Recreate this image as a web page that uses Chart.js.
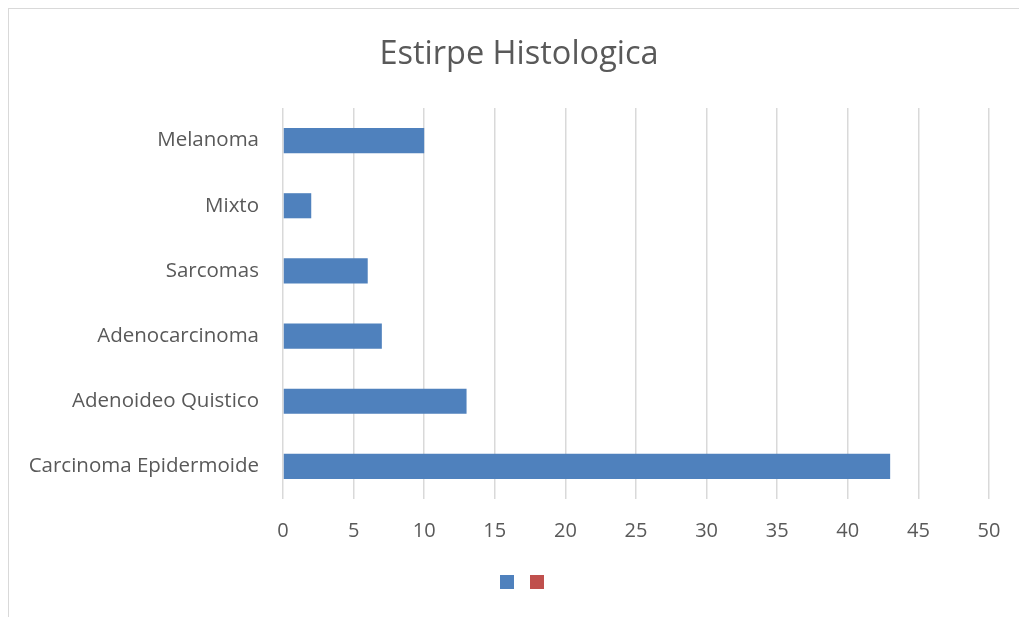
<!DOCTYPE html>
<html>
<head>
<meta charset="utf-8">
<script src="https://cdn.jsdelivr.net/npm/chart.js@4"></script>
<style>
  html, body { margin: 0; padding: 0; background: #fff; overflow: hidden; }
  #frame { position: absolute; left: 8px; top: 8px; width: 1030px; height: 630px; border: 1px solid #d9d9d9; }
  #wrap { position: absolute; left: 0; top: 0; width: 1038px; height: 617px; }
</style>
</head>
<body>
<div id="frame"></div>
<div id="wrap"><canvas id="chart"></canvas></div>
<script>
// --- datos ---
const categories = ['Melanoma', 'Mixto', 'Sarcomas', 'Adenocarcinoma', 'Adenoideo Quistico', 'Carcinoma Epidermoide'];
const serie1 = [10, 2, 6, 7, 13, 43];
const serie2 = [null, null, null, null, null, null];
const xMin = 0, xMax = 50, xStep = 5;

const textColor = '#595959';
const gridColor = '#d9d9d9';

Chart.defaults.font.family = '"Open Sans", "Noto Sans", sans-serif';
Chart.defaults.color = textColor;

const ctx = document.getElementById('chart').getContext('2d');
new Chart(ctx, {
    type: 'bar',
    data: {
        labels: categories,
        datasets: [
            { label: '', data: serie1, backgroundColor: '#4f81bd', borderWidth: 0, categoryPercentage: 1, barPercentage: 0.385 },
            { label: '', data: serie2, backgroundColor: '#c0504d', borderWidth: 0, categoryPercentage: 1, barPercentage: 0.385 }
        ]
    },
    options: {
        indexAxis: 'y',
        responsive: true,
        maintainAspectRatio: false,
        animation: false,
        layout: { padding: { left: 0, right: 0, top: 0, bottom: 18 } },
        scales: {
            x: {
                min: xMin, max: xMax,
                ticks: { stepSize: xStep, color: textColor, font: { size: 20 }, padding: 20 },
                grid: { color: gridColor, lineWidth: 1.5, drawTicks: false },
                border: { display: false },
                // espacio a la derecha del area de trazado
                afterFit: (scale) => { scale.height = 66; scale.paddingRight = 49; }
            },
            y: {
                stacked: true,
                ticks: { color: textColor, font: { size: 20.5 }, padding: 24 },
                grid: { display: false, drawTicks: false },
                border: { display: false },
                afterFit: (scale) => { scale.width = 283; }
            }
        },
        plugins: {
            title: {
                display: true,
                text: 'Estirpe Histologica',
                color: textColor,
                font: { size: 32.5, weight: 'normal' },
                padding: { top: 35.5, bottom: 33.5 }
            },
            legend: {
                position: 'bottom',
                rtl: true,
                reverse: true,
                labels: { boxWidth: 14, boxHeight: 14, padding: 10, font: { size: 12 } }
            },
            tooltip: { enabled: false }
        }
    }
});
</script>
</body>
</html>
